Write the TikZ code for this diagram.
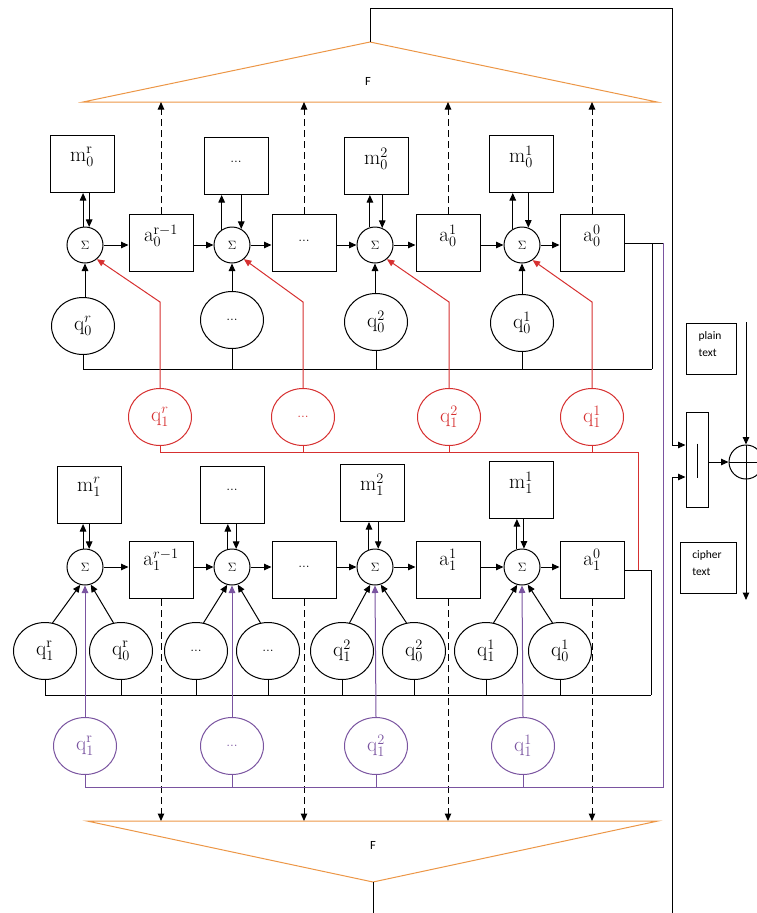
\documentclass[tikz,border=0pt]{standalone}
\usepackage{fontspec}
\newfontfamily\sansf{Carlito}
\usetikzlibrary{arrows.meta,shapes.geometric,calc}
\definecolor{myred}{RGB}{214,48,48}
\definecolor{mypur}{RGB}{122,84,160}
\definecolor{myor}{RGB}{236,150,70}
\begin{document}
\begin{tikzpicture}[x=1pt,y=-1pt,line width=1pt,
  arr/.style={-{Triangle[length=7.5pt,width=6.5pt]}},
  box/.style={draw,minimum width=64pt,minimum height=57pt,inner sep=0pt},
  sig/.style={draw,circle,minimum size=36pt,inner sep=0pt,font=\fontsize{12}{14}\selectfont},
  qe/.style={draw,ellipse,minimum width=63pt,minimum height=57pt,inner sep=0pt,font=\fontsize{21}{23}\selectfont},
  lab/.style={font=\fontsize{21}{23}\selectfont,inner sep=0pt},
  dots/.style={font=\fontsize{14}{16}\selectfont,inner sep=0pt},
  dsh/.style={dash pattern=on 7pt off 4pt},
  small/.style={font=\sansf\fontsize{11.5}{17}\selectfont,align=left,inner sep=0pt},
]
\clip (0,0) rectangle (757,913);

% ---------- triangles F ----------
\coordinate (T1) at (83,102); \coordinate (T2) at (370,42); \coordinate (T3) at (657,102);
\coordinate (B1) at (87,821); \coordinate (B2) at (373,882); \coordinate (B3) at (658,821);
\draw[myor] (T1) -- (T2) -- (T3) -- cycle;
\draw[myor] (B1) -- (B2) -- (B3) -- cycle;
\node[font=\sansf\fontsize{12.5}{14}\selectfont] (Ftop) at (368,81) {F};
\node[font=\sansf\fontsize{12.5}{14}\selectfont] (Fbot) at (373,845) {F};

% ---------- row 0 ----------
\node[box] (m0a) at (82,164) {};  \node[lab] (m0aL) at (82,157) {$\mathrm{m}_0^{\mathrm{r}}$};
\node[box] (m0b) at (236,166) {}; \node[dots] (m0bL) at (236,162) {...};
\node[box] (m0c) at (376,166) {}; \node[lab] (m0cL) at (376,159) {$\mathrm{m}_0^2$};
\node[box] (m0d) at (521,164) {}; \node[lab] (m0dL) at (521,157) {$\mathrm{m}_0^1$};

\node[sig] (s0a) at (85,245) {$\Sigma$};
\node[sig] (s0b) at (232,245) {$\Sigma$};
\node[sig] (s0c) at (375,245) {$\Sigma$};
\node[sig] (s0d) at (522,245) {$\Sigma$};

\node[box] (a0a) at (161,243) {}; \node[lab] (a0aL) at (161,236) {$\mathrm{a}_0^{\mathrm{r}-1}$};
\node[box] (a0b) at (304,243) {}; \node[dots] (a0bL) at (304,241) {...};
\node[box] (a0c) at (448,243) {}; \node[lab] (a0cL) at (448,236) {$\mathrm{a}_0^1$};
\node[box] (a0d) at (592,243) {}; \node[lab] (a0dL) at (592,236) {$\mathrm{a}_0^0$};

\node[qe] (q0a) at (83,326) {$\mathrm{q}_0^{r}$};
\node[qe,font=\fontsize{14}{16}\selectfont] (q0b) at (232,320) {...};
\node[qe] (q0c) at (376,322) {$\mathrm{q}_0^2$};
\node[qe] (q0d) at (522,323) {$\mathrm{q}_0^1$};

% horizontal chain row 0
\draw[arr] (s0a.east) -- (s0a.east -| a0a.west);
\draw[arr] (a0a.east |- s0a) -- (s0b.west);
\draw[arr] (s0b.east) -- (s0b.east -| a0b.west);
\draw[arr] (a0b.east |- s0b) -- (s0c.west);
\draw[arr] (s0c.east) -- (s0c.east -| a0c.west);
\draw[arr] (a0c.east |- s0c) -- (s0d.west);
\draw[arr] (s0d.east) -- (s0d.east -| a0d.west);

% m <-> sigma row 0
\draw[arr] (s0a.96) -- (s0a.96 |- m0a.south);
\draw[arr] (s0a.77 |- m0a.south) -- (s0a.77);
\draw[arr] (s0b.124) -- (s0b.124 |- m0b.south);
\draw[arr] (s0b.60 |- m0b.south) -- (s0b.60);
\draw[arr] (s0c.106) -- (s0c.106 |- m0c.south);
\draw[arr] (s0c.67 |- m0c.south) -- (s0c.67);
\draw[arr] (s0d.120) -- (s0d.120 |- m0d.south);
\draw[arr] (s0d.70 |- m0d.south) -- (s0d.70);

% q0 -> sigma
\draw[arr] (s0a.south |- q0a.north) -- (s0a.south);
\draw[arr] (s0b.south |- q0b.north) -- (s0b.south);
\draw[arr] (s0c.south |- q0c.north) -- (s0c.south);
\draw[arr] (s0d.south |- q0d.north) -- (s0d.south);

% bus 0
\coordinate (b0R) at (652,369);
\coordinate (o0) at (652,243);
\coordinate (pR) at (663,243);
\draw (q0a.south) |- (b0R);
\draw (q0b.south) -- (q0b.south |- b0R);
\draw (q0c.south) -- (q0c.south |- b0R);
\draw (q0d.south) -- (q0d.south |- b0R);
\draw (a0d.east) -- (pR);
\draw (o0) -- (b0R);

% dashed up to F
\draw[dsh,arr] (a0a.north) -- (a0a.north |- T1);
\draw[dsh,arr] (a0b.north) -- (a0b.north |- T1);
\draw[dsh,arr] (a0c.north) -- (a0c.north |- T1);
\draw[dsh,arr] (a0d.north) -- (a0d.north |- T1);

% ---------- red q1 ----------
\begin{scope}[myred]
\node[qe,text=myred] (r1a) at (160,417) {$\mathrm{q}_1^{r}$};
\node[qe,text=myred,font=\fontsize{14}{16}\selectfont] (r1b) at (303,417) {...};
\node[qe,text=myred] (r1c) at (449,417) {$\mathrm{q}_1^2$};
\node[qe,text=myred] (r1d) at (592,417) {$\mathrm{q}_1^1$};
\draw[arr] (r1a.north) -- ++(0,-86) -- (s0a.-50);
\draw[arr] (r1b.north) -- ++(0,-86) -- (s0b.-50);
\draw[arr] (r1c.north) -- ++(0,-86) -- (s0c.-50);
\draw[arr] (r1d.north) -- ++(0,-86) -- (s0d.-55);
\coordinate (rbR) at (638,452);
\coordinate (rE) at (638,570);
\draw (r1a.south) |- (rbR) -- (rE);
\draw (r1b.south) -- (r1b.south |- rbR);
\draw (r1c.south) -- (r1c.south |- rbR);
\draw (r1d.south) -- (r1d.south |- rbR);
\end{scope}

% ---------- row 1 ----------
\node[box] (m1a) at (89,495) {};  \node[lab] (m1aL) at (89,487) {$\mathrm{m}_1^{r}$};
\node[box] (m1b) at (232,495) {}; \node[dots] (m1bL) at (232,490) {...};
\node[box] (m1c) at (372,493) {}; \node[lab] (m1cL) at (372,485) {$\mathrm{m}_1^2$};
\node[box] (m1d) at (521,490) {}; \node[lab] (m1dL) at (521,483) {$\mathrm{m}_1^1$};

\node[sig] (s1a) at (85,567) {$\Sigma$};
\node[sig] (s1b) at (232,567) {$\Sigma$};
\node[sig] (s1c) at (375,567) {$\Sigma$};
\node[sig] (s1d) at (522,567) {$\Sigma$};

\node[box] (a1a) at (161,570) {}; \node[lab] (a1aL) at (161,560) {$\mathrm{a}_1^{r-1}$};
\node[box] (a1b) at (304,570) {}; \node[dots] (a1bL) at (304,567) {...};
\node[box] (a1c) at (448,570) {}; \node[lab] (a1cL) at (448,560) {$\mathrm{a}_1^1$};
\node[box] (a1d) at (592,570) {}; \node[lab] (a1dL) at (592,560) {$\mathrm{a}_1^0$};

\node[qe] (q1a1) at (45,651) {$\mathrm{q}_1^{\mathrm{r}}$};
\node[qe] (q1a0) at (121,651) {$\mathrm{q}_0^{\mathrm{r}}$};
\node[qe,font=\fontsize{14}{16}\selectfont] (q1b1) at (196,651) {...};
\node[qe,font=\fontsize{14}{16}\selectfont] (q1b0) at (268,651) {...};
\node[qe] (q1c1) at (342,651) {$\mathrm{q}_1^2$};
\node[qe] (q1c0) at (414,651) {$\mathrm{q}_0^2$};
\node[qe] (q1d1) at (486,651) {$\mathrm{q}_1^1$};
\node[qe] (q1d0) at (560,651) {$\mathrm{q}_0^1$};

% horizontal chain row 1
\draw[arr] (s1a.east) -- (s1a.east -| a1a.west);
\draw[arr] (a1a.east |- s1a) -- (s1b.west);
\draw[arr] (s1b.east) -- (s1b.east -| a1b.west);
\draw[arr] (a1b.east |- s1b) -- (s1c.west);
\draw[arr] (s1c.east) -- (s1c.east -| a1c.west);
\draw[arr] (a1c.east |- s1c) -- (s1d.west);
\draw[arr] (s1d.east) -- (s1d.east -| a1d.west);

% m <-> sigma row 1
\draw[arr] (s1a.96) -- (s1a.96 |- m1a.south);
\draw[arr] (s1a.77 |- m1a.south) -- (s1a.77);
\draw[arr] (s1b.103) -- (s1b.103 |- m1b.south);
\draw[arr] (s1b.77 |- m1b.south) -- (s1b.77);
\draw[arr] (s1c.109) -- (s1c.109 |- m1c.south);
\draw[arr] (s1c.80 |- m1c.south) -- (s1c.80);
\draw[arr] (s1d.106) -- (s1d.106 |- m1d.south);
\draw[arr] (s1d.84 |- m1d.south) -- (s1d.84);

% q1 row -> sigma
\draw[arr] (q1a1.75) -- (s1a.-105);
\draw[arr] (q1a0.105) -- (s1a.-72);
\draw[arr] (q1b1.75) -- (s1b.-105);
\draw[arr] (q1b0.105) -- (s1b.-72);
\draw[arr] (q1c1.75) -- (s1c.-105);
\draw[arr] (q1c0.105) -- (s1c.-72);
\draw[arr] (q1d1.75) -- (s1d.-105);
\draw[arr] (q1d0.105) -- (s1d.-72);

% bus 1
\coordinate (b1R) at (651,695);
\coordinate (o1) at (651,570);
\draw (a1d.east) -- (o1) -- (b1R);
\draw (q1a1.south) |- (b1R);
\foreach \n in {q1a0,q1b1,q1b0,q1c1,q1c0,q1d1,q1d0}
  \draw (\n.south) -- (\n.south |- b1R);

% dashed down to F
\draw[dsh,arr] (a1a.south) -- (a1a.south |- B1);
\draw[dsh,arr] (a1b.south) -- (a1b.south |- B1);
\draw[dsh,arr] (a1c.south) -- (a1c.south |- B1);
\draw[dsh,arr] (a1d.south) -- (a1d.south |- B1);

% ---------- purple q1 ----------
\begin{scope}[mypur]
\node[qe,text=mypur] (p1a) at (85,746) {$\mathrm{q}_1^{\mathrm{r}}$};
\node[qe,text=mypur,font=\fontsize{14}{16}\selectfont] (p1b) at (232,746) {...};
\node[qe,text=mypur] (p1c) at (376,746) {$\mathrm{q}_1^2$};
\node[qe,text=mypur] (p1d) at (523,746) {$\mathrm{q}_1^1$};
\draw[arr] (p1a.north) -- (s1a.south);
\draw[arr] (p1b.north) -- (s1b.south);
\draw[arr] (p1c.north) -- (s1c.south);
\draw[arr] (p1d.north) -- (s1d.south);
\coordinate (pbR) at (663,787);
\draw (p1a.south) |- (pbR) -- (pR);
\draw (p1b.south) -- (p1b.south |- pbR);
\draw (p1c.south) -- (p1c.south |- pbR);
\draw (p1d.south) -- (p1d.south |- pbR);
\end{scope}

% ---------- right panel ----------
\node[draw,minimum width=22pt,minimum height=95pt,inner sep=0pt] (cat) at (697,459.5) {};
\draw ([yshift=16pt]cat.center) -- ([yshift=-18pt]cat.center);
\coordinate (frT) at (672,8);
\coordinate (fi1) at (672,445);
\coordinate (frB) at (672,940);
\coordinate (fi2) at (672,477);
\draw[arr] (T2) |- (frT) -- (fi1) -- (fi1 -| cat.west);
\draw[arr] (B2) |- (frB) -- (fi2) -- (fi2 -| cat.west);

\node[draw,circle,minimum size=34pt,inner sep=0pt] (xor) at (746,462) {};
\draw (xor.west) -- (xor.east);
\coordinate (pin) at (746,322);
\coordinate (pout) at (746,600);
\draw[arr] (pin) -- (xor.north);
\draw[arr] (xor.north) -- (pout);
\draw[arr] (cat.east |- xor) -- (xor.west);

\node[draw,minimum width=50pt,minimum height=51pt,inner sep=0pt] (ptb) at (711,348.5) {};
\node[small] (ptL) at (710,344) {plain\\text};
\node[draw,minimum width=56pt,minimum height=51pt,inner sep=0pt] (ctb) at (708,567.5) {};
\node[small] (ctL) at (707,563) {cipher\\text};
\end{tikzpicture}
\end{document}
